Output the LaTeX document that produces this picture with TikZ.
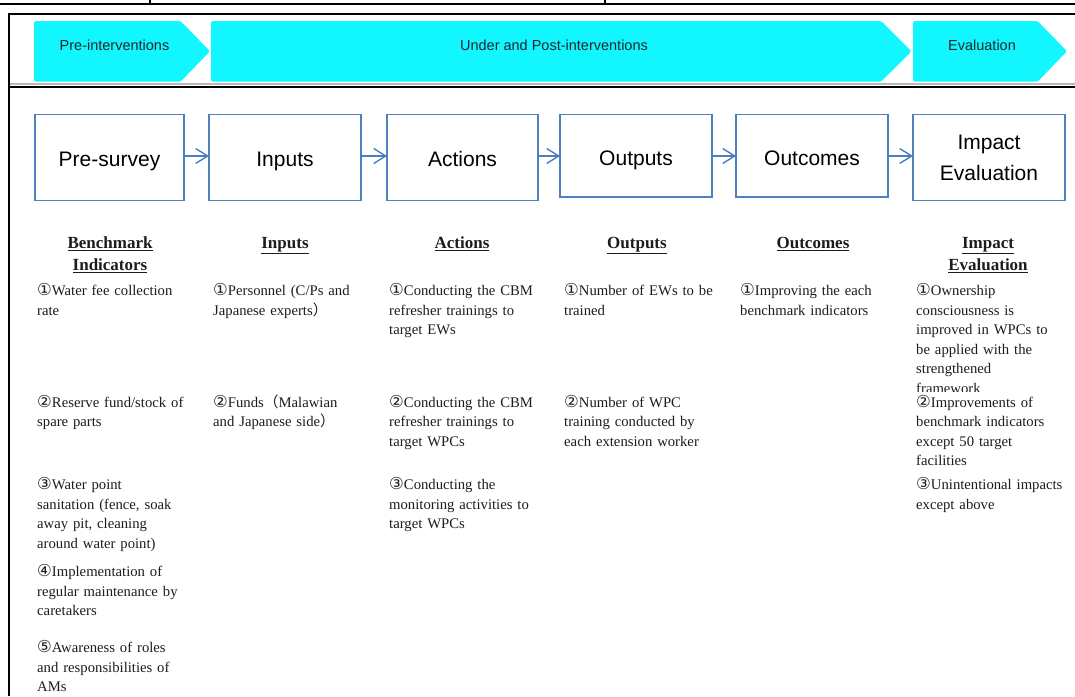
\documentclass[tikz,border=0pt]{standalone}
\usepackage{fontspec}
\setmainfont{Liberation Serif}
\newfontfamily\stagefont{Liberation Sans}
\newfontfamily\circfont[Scale=1.12]{DejaVu Sans}
\newfontfamily\widefont{Noto Sans CJK JP}
\usetikzlibrary{arrows.meta}

\definecolor{bandcyan}{RGB}{18,246,255}
\definecolor{boxblue}{RGB}{79,129,189}
\definecolor{flowblue}{RGB}{74,126,190}
\definecolor{bandink}{RGB}{28,40,44}
\definecolor{bodyink}{RGB}{28,28,28}

% circled item numbers and full-width brackets
\newcommand{\cnum}[1]{{\circfont #1}}
\newcommand{\fwopen}{{\widefont （}}
\newcommand{\fwclose}{{\widefont ）}}
% heading underline with a heavier rule
\newcommand{\ulword}[1]{\leavevmode\vtop{\hbox{#1}\kern1.5pt\hrule height 1.2pt}}

\tikzset{
  band/.style={fill=bandcyan, draw=none, rounded corners=1.5pt},
  bandlabel/.style={anchor=base, inner sep=0pt, text=bandink,
    font=\stagefont\fontsize{14.5}{17}\selectfont},
  stagebox/.style={draw=boxblue, line width=1.4pt, fill=white,
    inner sep=0pt, outer sep=0pt},
  stagelabel/.style={anchor=base, inner sep=0pt, text=black,
    font=\stagefont\fontsize{21}{31}\selectfont},
  flow/.style={draw=flowblue, line width=1.4pt,
    -{Straight Barb[length=12pt,width=15pt,line width=1.4pt]}},
  heading/.style={anchor=base, inner sep=0pt, text=bodyink,
    font=\bfseries\fontsize{17}{22}\selectfont},
  item/.style={anchor=base west, inner sep=0pt, text width=172pt, align=left,
    text=bodyink, font=\fontsize{14.7}{19.6}\selectfont},
}

\begin{document}
\begin{tikzpicture}[x=1pt, y=-1pt]
\useasboundingbox (0,0) rectangle (1075,696);

% table rules above the frame
\draw[line width=1.8pt] (0,4.3) -- (1075,4.3);
\draw[line width=1.5pt] (150,0) -- (150,4.3);
\draw[line width=1.5pt] (605,0) -- (605,4.3);

% outer frame and phase separator
\draw[line width=2.6pt, line join=miter] (9,696) -- (9,13.8) -- (1075,13.8);
\draw[gray!55, line width=1.2pt] (10,84) -- (1075,84);
\draw[line width=2.2pt] (10,87) -- (1075,87);

% phase chevrons
\fill[band] (34,21) -- (180.5,21) -- (210,51.3) -- (180.5,81.7) -- (34,81.7) -- cycle;
\fill[band] (211,21) -- (881,21) -- (911.5,51.3) -- (881,81.7) -- (211,81.7) -- cycle;
\fill[band] (913,21) -- (1037.5,21) -- (1067,51.3) -- (1037.5,81.7) -- (913,81.7) -- cycle;
\node[bandlabel] (phasepre)  at (114.5,50) {Pre-interventions};
\node[bandlabel] (phaseunder) at (554,50) {Under and Post-interventions};
\node[bandlabel] (phaseeval) at (982,50) {Evaluation};

% stage boxes
\node[stagebox, minimum width=149pt, minimum height=86.4pt] (presurvey) at (109.5,157.5) {};
\node[stagebox, minimum width=152pt, minimum height=86.4pt] (inputs)    at (285,157.5) {};
\node[stagebox, minimum width=151pt, minimum height=86.4pt] (actions)   at (462.5,157.5) {};
\node[stagebox, minimum width=152pt, minimum height=82.7pt] (outputs)   at (636,155.7) {};
\node[stagebox, minimum width=152pt, minimum height=82.7pt] (outcomes)  at (812,155.7) {};
\node[stagebox, minimum width=152pt, minimum height=86.4pt] (impact)    at (989,157.5) {};

\node[stagelabel] (presurveyT) at (109.5,166) {Pre-survey};
\node[stagelabel] (inputsT)    at (285,166) {Inputs};
\node[stagelabel] (actionsT)   at (462.5,166) {Actions};
\node[stagelabel] (outputsT)   at (636,165) {Outputs};
\node[stagelabel] (outcomesT)  at (812,165) {Outcomes};
\node[stagelabel, text width=150pt, align=center] (impactT) at (989,149.5) {Impact\\Evaluation};

% flow arrows
\coordinate (flowline) at (0,156);
\draw[flow] (presurvey.east |- flowline) -- (inputs.west |- flowline);
\draw[flow] (inputs.east |- flowline) -- (actions.west |- flowline);
\draw[flow] (actions.east |- flowline) -- (outputs.west |- flowline);
\draw[flow] (outputs.east |- flowline) -- (outcomes.west |- flowline);
\draw[flow] (outcomes.east |- flowline) -- (impact.west |- flowline);

% column headings
\node[heading] (headbench)   at (110,248) {\ulword{Benchmark}};
\node[heading] (headbenchB)  at (110,270) {\ulword{Indicators}};
\node[heading] (headinputs)  at (285,248) {\ulword{Inputs}};
\node[heading] (headactions) at (462,248) {\ulword{Actions}};
\node[heading] (headoutputs) at (637,248) {\ulword{Outputs}};
\node[heading] (headoutcomes) at (813,248) {\ulword{Outcomes}};
\node[heading] (headimpact)  at (988,248) {\ulword{Impact}};
\node[heading] (headimpactB) at (988,270) {\ulword{Evaluation}};

% benchmark indicators
\node[item] (bench1) at (37,295.5) {\cnum{①}Water fee collection\\rate};
\node[item] (bench2) at (37,407) {\cnum{②}Reserve fund/stock of\\spare parts};
\node[item] (bench3) at (37,489.5) {\cnum{③}Water point\\sanitation (fence, soak\\away pit, cleaning\\around water point)};
\node[item] (bench4) at (37,576.5) {\cnum{④}Implementation of\\regular maintenance by\\caretakers};
\node[item] (bench5) at (37,652.5) {\cnum{⑤}Awareness of roles\\and responsibilities of\\AMs};

% inputs
\node[item] (input1) at (213,295.5) {\cnum{①}Personnel (C/Ps and\\Japanese experts\fwclose};
\node[item] (input2) at (213,407) {\cnum{②}Funds\fwopen Malawian\\and Japanese side\fwclose};

% actions
\node[item] (action1) at (389,295.5) {\cnum{①}Conducting the CBM\\refresher trainings to\\target EWs};
\node[item] (action2) at (389,407) {\cnum{②}Conducting the CBM\\refresher trainings to\\target WPCs};
\node[item] (action3) at (389,489.5) {\cnum{③}Conducting the\\monitoring activities to\\target WPCs};

% outputs
\node[item] (output1) at (564,295.5) {\cnum{①}Number of EWs to be\\trained};
\node[item] (output2) at (564,407) {\cnum{②}Number of WPC\\training conducted by\\each extension worker};

% outcomes
\node[item] (outcome1) at (740,295.5) {\cnum{①}Improving the each\\benchmark indicators};

% impact evaluation (first cell is cut off by its row height)
\begin{scope}
  \clip (900,280) rectangle (1075,391.5);
  \node[item] (impact1) at (916,295.5) {\cnum{①}Ownership\\consciousness is\\improved in WPCs to\\be applied with the\\strengthened\\framework};
\end{scope}
\node[item] (impact2) at (916,407) {\cnum{②}Improvements of\\benchmark indicators\\except 50 target\\facilities};
\node[item] (impact3) at (916,489.5) {\cnum{③}Unintentional impacts\\except above};

\end{tikzpicture}
\end{document}
